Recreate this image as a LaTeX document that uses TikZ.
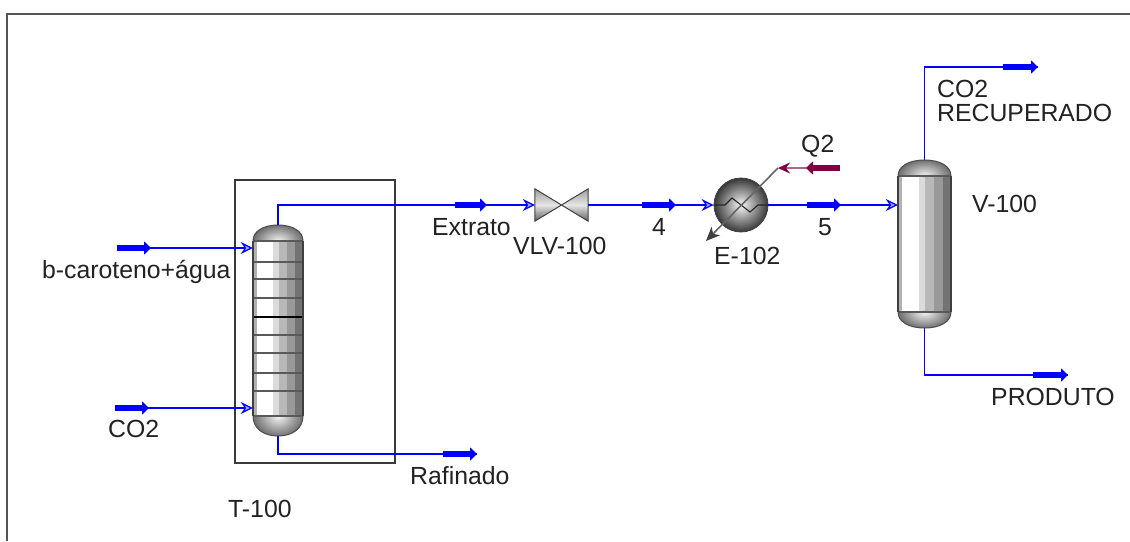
\documentclass[tikz,border=0pt]{standalone}
\usepackage{fontspec}
\setmainfont{Liberation Sans}
\usetikzlibrary{arrows.meta}
\definecolor{frameC}{HTML}{555555}
\definecolor{boxC}{HTML}{3A3A3A}
\definecolor{txt}{HTML}{222222}
\definecolor{maroonS}{HTML}{800040}
\definecolor{maroonL}{HTML}{A86A88}
\tikzset{
  lbl/.style={font=\fontsize{24.8}{24.8}\selectfont, text=txt, inner sep=0pt, anchor=base west},
  pipe/.style={draw=blue, line width=1.6pt},
  feedtip/.style={pipe, -{Stealth[length=12pt,width=12pt,inset=4pt,fill=blue!35,line width=1.2pt]}},
  bar/.style={draw=blue, line width=5.5pt, -{Triangle[length=7pt,width=13pt,fill=blue]}},
  qbar/.style={draw=maroonS, line width=5.5pt, -{Triangle[length=7pt,width=13pt,fill=maroonS]}},
  capline/.style={draw=black!65, line width=1.2pt},
  tray/.style={draw=black!65, line width=1.2pt},
}
% bands of a vertical vessel: x1,x2,ytop,ybot
\newcommand{\vesselbands}[4]{%
  \pgfmathsetmacro{\bandw}{#2-#1}%
  \foreach \a/\b/\c in {0/.07/gray!60, .07/.39/white, .39/.51/black!14, .51/.67/black!28, .67/.84/black!40, .84/1/black!55}{%
    \fill[\c] ({#1+\a*\bandw},#3) rectangle ({#1+\b*\bandw+.3},#4);
  }}
% rounded cap shading: cx, hw, yflat, yend
\newcommand{\capoutline}[4]{({#1-#2},#3) .. controls ({#1-#2},{#3+(#4-#3)*.6}) and ({#1-#2*.6},#4) .. (#1,#4)
      .. controls ({#1+#2*.6},#4) and ({#1+#2},{#3+(#4-#3)*.6}) .. ({#1+#2},#3)}
\newcommand{\vesselcap}[4]{%
  \begin{scope}
    \clip \capoutline{#1}{#2}{#3}{#4} -- cycle;
    \shade[inner color=white!92!gray, outer color=black!58] ({#1-#2*1.02},{#3-(#4-#3)*1.05}) rectangle ({#1+#2*1.02},{#3+(#4-#3)*1.05});
  \end{scope}
  \draw[draw=black!70, line width=1pt] \capoutline{#1}{#2}{#3}{#4};
}
\begin{document}
\begin{tikzpicture}[x=1pt,y=-1pt]
\useasboundingbox (0,0) rectangle (1130,541);
\fill[white] (0,0) rectangle (1130,541);
% outer frame
\draw[frameC, line width=2pt] (6.5,541) -- (6.5,13.5) -- (1130,13.5);
% column box
\node[draw=boxC, line width=1.6pt, minimum width=160pt, minimum height=283pt, inner sep=0pt] (box) at (315,321.5) {};

% T-100 column
\vesselbands{253}{303}{241}{416}
\vesselcap{278}{25}{241}{225}
\vesselcap{278}{25}{416}{436}
\foreach \y in {262,279,298,335,353,373,391}{\draw[tray] (253,\y) -- (303,\y);}
\draw[draw=black, line width=1.2pt] (253,317) -- (303,317);
\draw[capline] (253,241) -- (303,241);
\draw[capline] (253,416) -- (303,416);
\draw[draw=black!75,line width=1.2pt] (253,241) -- (253,416) (303,241) -- (303,416);
\node[minimum width=50pt, minimum height=211pt, inner sep=0pt] (T100) at (278,330.5) {};

% V-100 vessel
\vesselbands{898}{951}{176}{312}
\vesselcap{924.5}{26.5}{176}{160}
\vesselcap{924.5}{26.5}{312}{328}
\draw[capline] (898,176) -- (951,176);
\draw[capline] (898,312) -- (951,312);
\draw[draw=black!75,line width=1.2pt] (898,176) -- (898,312) (951,176) -- (951,312);
\node[minimum width=53pt, minimum height=168pt, inner sep=0pt] (V100) at (924.5,244) {};

% valve
\node[minimum width=53pt, minimum height=32pt, inner sep=0pt] (VLV) at (561.5,205) {};
\foreach \s in {west,east}{
  \shade[top color=black!38, bottom color=black!62, middle color=black!10, draw=black!75, line width=1pt]
    (VLV.north \s) -- (VLV.center) -- (VLV.south \s) -- cycle;
}

% exchanger
\node[circle, minimum size=54pt, inner sep=0pt, draw=black!75, line width=.8pt,
      shading=radial, inner color=white!95!gray, outer color=black!78] (E102) at (741,205) {};
\draw[draw=black!85, line width=1.1pt] (E102.west) -- (725,205) -- (732,198) -- (750,212) -- (758,205) -- (E102.east);

% named ends
\coordinate (feedA) at (117,248);
\coordinate (feedAb) at (151,248);
\coordinate (feedB) at (115,408);
\coordinate (feedBb) at (149,408);
\coordinate (raf) at (477,454);
\coordinate (rafa) at (443,454);
\coordinate (extA) at (455,205);
\coordinate (extB) at (487,205);
\coordinate (s4a) at (642,205);
\coordinate (s4b) at (676,205);
\coordinate (s5a) at (807,205);
\coordinate (s5b) at (841,205);
\coordinate (co2end) at (1038,67);
\coordinate (co2a) at (1003,67);
\coordinate (prodend) at (1068,375);
\coordinate (proda) at (1033,375);
\coordinate (qsrc) at (840,168);
\coordinate (qtip) at (806,168);
\coordinate (qjoint) at (778,168);
\coordinate (qout) at (706,241);

% pipes
\draw[feedtip] (feedA) -- (feedA -| T100.west);
\draw[feedtip] (feedB) -- (feedB -| T100.west);
\draw[pipe] (T100.north) -- (T100.north |- extA) -- (extA);
\draw[feedtip] (extA) -- (VLV.west);
\draw[pipe] (T100.south) -- (T100.south |- raf) -- (raf);
\draw[feedtip] (VLV.east) -- (E102.west);
\draw[feedtip] (E102.east) -- (V100.west |- E102.east);
\draw[pipe] (V100.north) -- (V100.north |- co2end) -- (co2end);
\draw[pipe] (V100.south) -- (V100.south |- prodend) -- (prodend);

% stream markers
\draw[bar] (feedA) -- (feedAb);
\draw[bar] (feedB) -- (feedBb);
\draw[bar] (extA) -- (extB);
\draw[bar] (rafa) -- (raf);
\draw[bar] (s4a) -- (s4b);
\draw[bar] (s5a) -- (s5b);
\draw[bar] (co2a) -- (co2end);
\draw[bar] (proda) -- (prodend);

% energy stream
\draw[draw=maroonL, line width=1.6pt, -{Stealth[length=12pt,width=11pt,inset=4pt,fill=maroonS,color=maroonS]}] (qsrc) -- (qjoint);
\draw[qbar] (qsrc) -- (qtip);
\draw[draw=black!60, line width=1.6pt, -{Stealth[length=14pt,width=12pt,inset=4pt,fill=black!75,color=black!75]}] (qjoint) -- (qout);

% labels
\node[lbl] (l1) at (42,278) {b-caroteno+água};
\node[lbl] (l2) at (108,437) {CO2};
\node[lbl] (l3) at (410,484) {Rafinado};
\node[lbl] (l4) at (228,517) {T-100};
\node[lbl] (l5) at (432,235) {Extrato};
\node[lbl] (l6) at (513,254) {VLV-100};
\node[lbl] (l7) at (652,235) {4};
\node[lbl] (l8) at (818,235) {5};
\node[lbl] (l9) at (714,264) {E-102};
\node[lbl] (l10) at (801,152) {Q2};
\node[lbl] (l11) at (937,97) {CO2};
\node[lbl] (l12) at (937,121) {RECUPERADO};
\node[lbl] (l13) at (972,212) {V-100};
\node[lbl] (l14) at (991,405) {PRODUTO};
\end{tikzpicture}
\end{document}
